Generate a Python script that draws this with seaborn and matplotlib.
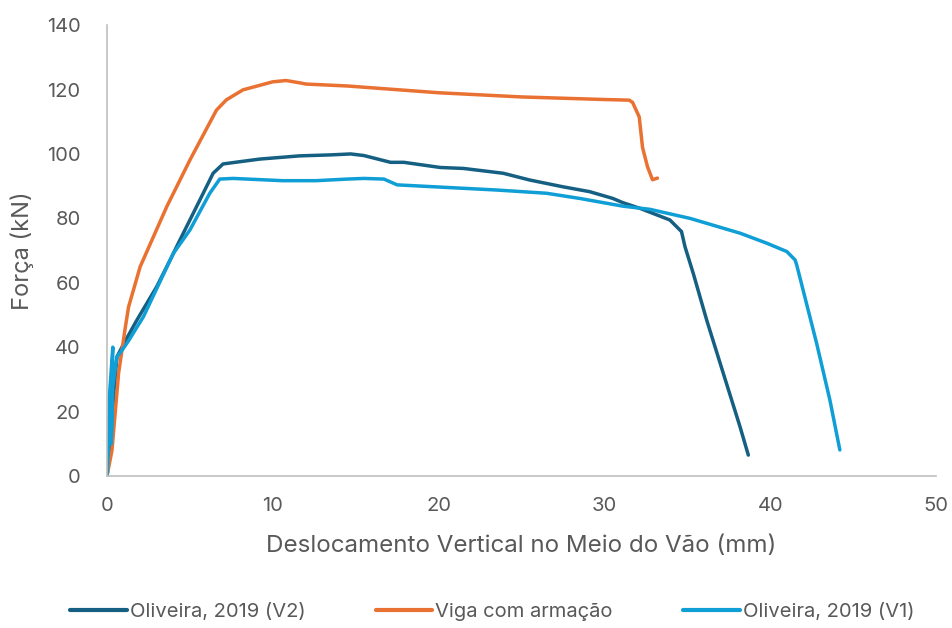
import matplotlib
matplotlib.use("Agg")
import matplotlib.pyplot as plt
import seaborn as sns
import pandas as pd

# Load-displacement curves (x: mid-span deflection in mm, y: force in kN)
v2_x = [0.0, 0.2, 0.4, 0.6, 1.0, 1.8, 3.0, 3.8, 4.4, 5.6, 6.4, 7.0, 9.2, 11.6, 13.45,
        14.7, 15.5, 17.1, 17.9, 20.1, 21.5, 23.9, 25.5, 27.5, 29.1, 30.5, 31.1, 32.15,
        33.95, 34.65, 34.86, 35.36, 36.17, 37.17, 38.18, 38.68]
v2_y = [0.0, 8.0, 25.0, 37.0, 41.0, 48.4, 58.8, 67.0, 73.3, 85.7, 94.0, 96.9, 98.4, 99.4, 99.7,
        100.0, 99.5, 97.4, 97.4, 95.8, 95.5, 94.0, 91.9, 89.8, 88.3, 86.2, 84.9, 83.1,
        79.5, 75.9, 71.2, 62.9, 48.4, 31.9, 15.3, 6.5]

viga_x = [0.0, 0.3, 0.5, 0.7, 0.9, 1.1, 1.3, 2.0, 3.6, 5.0, 6.6, 7.2, 8.2, 10.0, 10.8,
          11.6, 12.0, 14.5, 20.0, 25.0, 30.0, 31.5, 31.7, 32.1, 32.3, 32.6, 32.9, 33.2]
viga_y = [0.0, 8.0, 20.0, 32.0, 39.0, 46.0, 52.5, 65.0, 83.6, 98.1, 113.6, 116.8, 119.9, 122.4, 122.8,
          122.1, 121.7, 121.1, 119.0, 117.7, 116.9, 116.7, 116.0, 111.5, 102.0, 96.0, 92.0, 92.5]

v1_x = [0.0, 0.1, 0.15, 0.35, 0.3, 0.25, 0.35, 0.6, 0.9, 1.3, 2.2, 4.0, 5.0, 6.2, 6.8,
        7.6, 10.6, 12.6, 14.5, 15.5, 16.7, 17.5, 20.5, 23.5, 26.5, 28.5, 31.1, 32.75,
        35.16, 38.18, 39.79, 41.0, 41.5, 41.6, 42.8, 43.6, 44.2]
v1_y = [0.0, 10.0, 25.0, 40.0, 20.0, 10.0, 28.0, 37.0, 39.0, 42.0, 49.5, 69.1, 76.4, 87.8, 92.2,
        92.4, 91.7, 91.7, 92.2, 92.4, 92.2, 90.4, 89.6, 88.8, 87.8, 86.2, 83.8, 82.8,
        80.0, 75.4, 72.3, 69.7, 67.1, 65.5, 41.2, 23.6, 8.1]

series_names = ["Oliveira, 2019 (V2)", "Viga com armação", "Oliveira, 2019 (V1)"]
colors = ["#156082", "#E97132", "#0F9ED5"]

frames = []
for name, xs, ys in zip(series_names, [v2_x, viga_x, v1_x], [v2_y, viga_y, v1_y]):
    frames.append(pd.DataFrame({"x": xs, "y": ys, "serie": name}))
df = pd.concat(frames, ignore_index=True)

sns.set_theme(style="white")
plt.rcParams["font.family"] = ["Inter", "DejaVu Sans"]

text_color = "#595959"
fig = plt.figure(figsize=(9.52, 6.28), dpi=100)
ax = fig.add_axes([0.1124, 0.242, 0.8708, 0.718])

sns.lineplot(data=df, x="x", y="y", hue="serie", hue_order=series_names,
             palette=colors, sort=False, estimator=None, units="serie",
             linewidth=2.5, ax=ax, legend=True)

ax.set_xlim(0, 50)
ax.set_ylim(0, 140)
ax.set_xticks(range(0, 51, 10))
ax.set_yticks(range(0, 141, 20))
ax.tick_params(axis="y", length=0, labelsize=14.5, colors=text_color, pad=19)
ax.tick_params(axis="x", length=0, labelsize=14.5, colors=text_color, pad=15)

for side in ["top", "right"]:
    ax.spines[side].set_visible(False)
for side in ["left", "bottom"]:
    ax.spines[side].set_color("#BFBFBF")
    ax.spines[side].set_linewidth(1.2)

ax.set_xlabel("Deslocamento Vertical no Meio do Vão (mm)", fontsize=17.4, color=text_color)
ax.set_ylabel("Força (kN)", fontsize=17, color=text_color)
ax.xaxis.set_label_coords(0.5, -0.131)
ax.yaxis.set_label_coords(-0.088, 0.5)

handles, labels = ax.get_legend_handles_labels()
for h in handles:
    h.set_linewidth(3)
leg = ax.legend(handles, labels, loc="center", bbox_to_anchor=(0.517, 0.026),
                bbox_transform=fig.transFigure, ncol=3, frameon=False,
                fontsize=14.5, handlelength=2.8, handletextpad=0.15, columnspacing=3.5)
for t in leg.get_texts():
    t.set_color(text_color)

fig.savefig("out.png", dpi=100)
